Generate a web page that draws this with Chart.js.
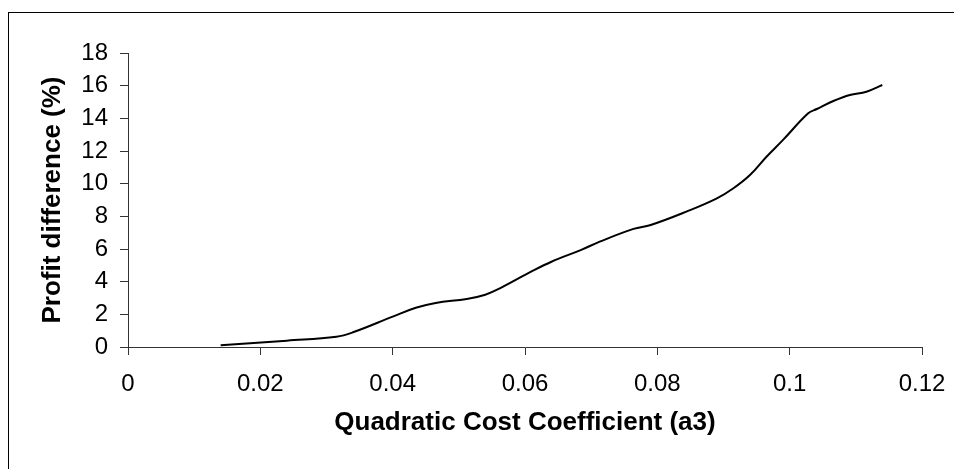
<!DOCTYPE html>
<html>
<head>
<meta charset="utf-8">
<script src="https://cdn.jsdelivr.net/npm/chart.js@4"></script>
<style>
  html, body { margin: 0; padding: 0; background: #fff; }
  #wrap { position: relative; width: 954px; height: 469px; overflow: hidden; }
  #frame { position: absolute; left: 8px; top: 12px; width: 1000px; height: 1000px;
           border-left: 1px solid #000; border-top: 1px solid #000; }
  canvas { position: absolute; left: 0; top: 0; }
</style>
</head>
<body>
<div id="wrap">
  <div id="frame"></div>
  <canvas id="profitChart" width="954" height="469"></canvas>
</div>
<script>
// Quadratic cost coefficient (a3) vs profit difference (%)
const costCoeff = [0.014, 0.024, 0.0315, 0.034, 0.040, 0.0435, 0.0465, 0.0512, 0.054, 0.0562,
                   0.0612, 0.064, 0.0685, 0.0713, 0.0764, 0.079, 0.0844, 0.089, 0.0915, 0.094,
                   0.0965, 0.099, 0.1028, 0.1041, 0.1066, 0.1091, 0.1116, 0.114];
const profitDiff = [0.10, 0.39, 0.63, 0.90, 1.86, 2.40, 2.70, 2.94, 3.20, 3.59,
                    4.67, 5.22, 5.95, 6.45, 7.23, 7.47, 8.29, 9.10, 9.72, 10.53,
                    11.65, 12.68, 14.31, 14.57, 15.06, 15.43, 15.63, 16.04];
const xTicks = [0, 0.02, 0.04, 0.06, 0.08, 0.1, 0.12];
const yTicks = [0, 2, 4, 6, 8, 10, 12, 14, 16, 18];

const points = costCoeff.map((x, i) => ({ x: x, y: profitDiff[i] }));
const axisColor = '#333';
const fontFamily = '"Liberation Sans", Arial, sans-serif';

const ctx = document.getElementById("profitChart").getContext("2d");
const chart = new Chart(ctx, {
  type: 'line',
  data: {
    datasets: [{
      label: 'Profit difference',
      data: points,
      borderColor: '#000',
      borderWidth: 2,
      pointRadius: 0,
      tension: 0.4,
      fill: false
    }]
  },
  options: {
    responsive: false,
    animation: false,
    layout: { padding: { left: 33, top: 53, right: 32, bottom: 27 } },
    plugins: { legend: { display: false }, tooltip: { enabled: false } },
    scales: {
      x: {
        type: 'linear',
        min: 0,
        max: 0.12,
        afterBuildTicks: (scale) => { scale.ticks = xTicks.map(v => ({ value: v })); },
        afterFit: (scale) => {
          scale.height = 95;
          scale.paddingLeft = 0;
          scale.paddingRight = 0;
        },
        ticks: {
          color: '#000',
          padding: 15,
          font: { family: fontFamily, size: 24 },
          callback: (v) => String(v)
        },
        grid: { display: true, drawOnChartArea: false, drawTicks: true, tickLength: 8, color: axisColor },
        border: { color: axisColor, width: 1 },
        title: {
          display: true,
          text: 'Quadratic Cost Coefficient (a3)',
          color: '#000',
          font: { family: fontFamily, size: 26, weight: 'bold' }
        }
      },
      y: {
        type: 'linear',
        min: 0,
        max: 18,
        afterBuildTicks: (scale) => { scale.ticks = yTicks.map(v => ({ value: v })); },
        afterFit: (scale) => { scale.width = 95; },
        ticks: {
          color: '#000',
          padding: 12,
          font: { family: fontFamily, size: 24 }
        },
        grid: { display: true, drawOnChartArea: false, drawTicks: true, tickLength: 8, color: axisColor },
        border: { color: axisColor, width: 1 },
        title: {
          display: true,
          text: 'Profit difference (%)',
          color: '#000',
          font: { family: fontFamily, size: 26, weight: 'bold' }
        }
      }
    }
  }
});
</script>
</body>
</html>
